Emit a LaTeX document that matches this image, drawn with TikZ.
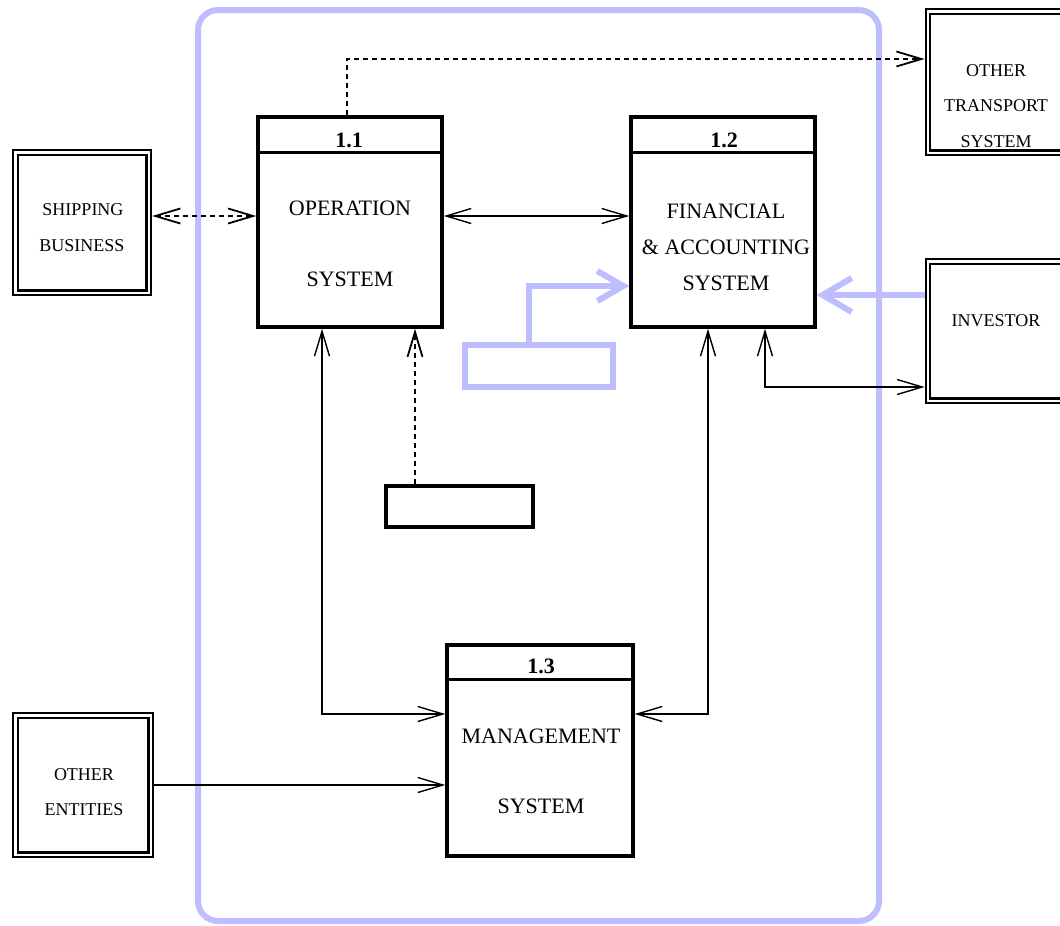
\documentclass[tikz,border=0pt]{standalone}
\usepackage{fontspec}
\setmainfont{Liberation Serif}
\usetikzlibrary{arrows.meta,calc}
\definecolor{lav}{RGB}{190,190,255}
\tikzset{vtip/.tip={Straight Barb[length=25pt,width=15pt]}}
\begin{document}
\begin{tikzpicture}[x=1pt,y=-1pt,
  proc/.style={draw, line width=3.5pt, minimum width=184pt, minimum height=210pt, inner sep=0pt, outer sep=1.75pt},
  ext/.style={draw, line width=2.2pt, double, double distance=2.5pt, inner sep=0pt, outer sep=3.45pt},
  plainbox/.style={draw, line width=3.5pt, inner sep=0pt, outer sep=1.75pt},
  bluebox/.style={draw=lav, line width=6pt, inner sep=0pt, outer sep=3pt},
  big/.style={font=\fontsize{22}{26}\selectfont, anchor=base, inner sep=0pt},
  small/.style={font=\fontsize{18}{22}\selectfont, anchor=base, inner sep=0pt},
  num/.style={font=\bfseries\fontsize{22}{26}\selectfont, anchor=base, inner sep=0pt},
  flow/.style={line width=1.4pt},
  dotflow/.style={line width=1.8pt, dash pattern=on 5pt off 4pt},
  blueflow/.style={draw=lav, line width=6pt}
]
\useasboundingbox (0,0) rectangle (1060,926);
\clip (0,0) rectangle (1060,926);

% blue frame
\draw[lav, line width=6pt, rounded corners=20pt] (198,10) rectangle (879,921);

% processes
\node[proc] (p11) at (350,222) {};
\node[proc] (p12) at (723,222) {};
\node[proc, minimum width=186pt, minimum height=211pt] (p13) at (540,750.5) {};
\draw[line width=3pt] (p11.west |- 0,152) -- (p11.east |- 0,152);
\draw[line width=3pt] (p12.west |- 0,152) -- (p12.east |- 0,152);
\draw[line width=3pt] (p13.west |- 0,679) -- (p13.east |- 0,679);

\node[num] (l11) at (349,147) {1.1};
\node[big] (a11) at (350,215) {OPERATION};
\node[big] (b11) at (350,286) {SYSTEM};

\node[num] (l12) at (724,147) {1.2};
\node[big] (a12) at (726,218) {FINANCIAL};
\node[big] (b12) at (726,254) {\& ACCOUNTING};
\node[big] (c12) at (726,290) {SYSTEM};

\node[num] (l13) at (541,673) {1.3};
\node[big] (a13) at (541,743) {MANAGEMENT};
\node[big] (b13) at (541,813) {SYSTEM};

% external entities
\node[ext, minimum width=133.5pt, minimum height=140.5pt] (sb) at (82,222.5) {};
\node[small] (sbt1) at (83,215) {SHIPPING};
\node[small] (sbt2) at (82,251) {BUSINESS};

\node[ext, minimum width=135.5pt, minimum height=139.5pt] (oe) at (83,785) {};
\node[small] (oet1) at (84,780) {OTHER};
\node[small] (oet2) at (84,815) {ENTITIES};

\node[ext, minimum width=152pt, minimum height=141.5pt] (ot) at (1004,82) {};
\node[small] (ott1) at (996,76) {OTHER};
\node[small] (ott2) at (996,111) {TRANSPORT};
\node[small] (ott3) at (996,147) {SYSTEM};

\node[ext, minimum width=152pt, minimum height=139.5pt] (inv) at (1004,331) {};
\node[small] (invt) at (996,326) {INVESTOR};

% stores
\node[plainbox, minimum width=147pt, minimum height=41pt] (br) at (459.5,506.5) {};
\node[bluebox, minimum width=148.5pt, minimum height=42pt] (bb) at (539,365.5) {};

% connectors
\draw[dotflow, vtip-vtip] ([yshift=6.5pt]sb.east) -- ([yshift=6pt]p11.west);
\draw[flow, vtip-vtip] ([yshift=6pt]p11.east) -- ([yshift=6pt]p12.west);
\draw[dotflow, -vtip] ([xshift=-3pt]p11.north) |- ([yshift=23pt]ot.west);
\draw[flow, vtip-vtip] ([xshift=-28pt]p11.south) |- ([yshift=36.5pt]p13.west);
\draw[flow, vtip-vtip] ([xshift=-15pt]p12.south) |- ([yshift=36.5pt]p13.east);
\draw[dotflow, -vtip] ([xshift=-44.5pt]br.north) -- ([xshift=-44.5pt]br.north |- p11.south);
\draw[flow, vtip-vtip] ([xshift=42pt]p12.south) |- ([yshift=-56pt]inv.west);
\draw[flow, -vtip] (oe.east) -- (oe.east -| p13.west);

% blue flows
\draw[blueflow, -{Straight Barb[length=29pt,width=34pt]}] ([yshift=36pt]inv.west) -- ([yshift=36pt]inv.west -| p12.east);
\draw[blueflow, -{Straight Barb[length=26pt,width=30pt]}] ([xshift=-10pt]bb.north) |- ([yshift=-64pt]p12.west);
\end{tikzpicture}
\end{document}
